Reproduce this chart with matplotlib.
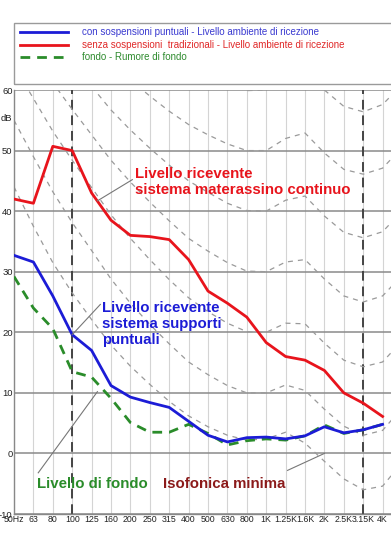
import matplotlib
matplotlib.use("Agg")
import matplotlib.pyplot as plt
from matplotlib.lines import Line2D
from matplotlib.patches import Rectangle

freq_labels = ['50Hz', '63', '80', '100', '125', '160', '200', '250', '315', '400',
               '500', '630', '800', '1K', '1.25K', '1.6K', '2K', '2.5K', '3.15K', '4K']

senza = [42.0, 41.3, 50.7, 50.0, 43.0, 38.5, 36.0, 35.8, 35.3, 32.0,
         26.8, 24.8, 22.5, 18.3, 16.0, 15.4, 13.7, 10.0, 8.3, 6.1]
con = [32.7, 31.6, 26.0, 19.6, 17.0, 11.2, 9.3, 8.4, 7.6, 5.3,
       3.0, 1.9, 2.6, 2.7, 2.4, 2.9, 4.4, 3.4, 3.9, 4.8]
fondo = [29.2, 24.0, 20.6, 13.5, 12.6, 9.1, 5.1, 3.5, 3.5, 4.8,
         3.3, 1.4, 2.1, 2.4, 2.2, 2.9, 4.7, 3.3, 3.9, 4.8]

# equal-loudness reference curves (50 Hz .. 5 kHz)
iso_soglia = [44.0, 37.5, 31.5, 26.5, 22.1, 17.9, 14.4, 11.4, 8.6, 6.2, 4.4, 3.0, 2.2, 2.4, 3.5, 1.7, -1.3, -4.2, -6.0, -5.4, -1.5]
iso_10 = [55.0, 49.0, 43.2, 38.1, 33.5, 28.8, 24.8, 21.3, 18.1, 15.1, 13.0, 11.2, 10.0, 10.0, 11.3, 10.4, 7.3, 4.5, 3.0, 3.8, 7.5]
iso_20 = [64.0, 58.6, 53.2, 48.4, 43.9, 39.4, 35.5, 32.0, 28.7, 25.7, 23.4, 21.5, 20.1, 20.0, 21.5, 21.4, 18.2, 15.4, 14.3, 15.1, 18.6]
iso_30 = [71.3, 66.2, 61.2, 56.8, 52.6, 48.4, 44.8, 41.5, 38.4, 35.5, 33.4, 31.5, 30.1, 30.0, 31.6, 32.0, 28.8, 26.0, 25.0, 26.0, 29.4]
iso_40 = [77.8, 73.1, 68.5, 64.4, 60.6, 56.7, 53.4, 50.4, 47.6, 45.0, 43.1, 41.3, 40.1, 40.0, 41.8, 42.5, 39.2, 36.5, 35.6, 36.6, 40.0]
iso_50 = [84.0, 79.6, 75.4, 71.6, 68.2, 64.7, 61.7, 59.0, 56.5, 54.3, 52.6, 51.1, 50.0, 50.0, 52.0, 52.9, 49.6, 46.9, 46.1, 47.1, 50.5]
iso_60 = [90.0, 85.9, 82.1, 78.7, 75.6, 72.5, 69.9, 67.5, 65.4, 63.5, 62.1, 60.8, 59.9, 60.0, 62.2, 63.2, 60.0, 57.3, 56.4, 57.6, 60.9]
iso_curves = [iso_soglia, iso_10, iso_20, iso_30, iso_40, iso_50, iso_60]

legend_labels = ['con sospensioni puntuali - Livello ambiente di ricezione',
                 'senza sospensioni  tradizionali - Livello ambiente di ricezione',
                 'fondo - Rumore di fondo']

plt.rcParams['font.family'] = ['Liberation Sans', 'DejaVu Sans']

W, H = 391, 537
fig = plt.figure(figsize=(W / 100, H / 100), dpi=100)
x0, x1 = 14, 391
ytop, ybot = 90, 514
ax = fig.add_axes([x0 / W, (H - ybot) / H, (x1 - x0) / W, (ybot - ytop) / H])
ax.set_xlim(0, (x1 - x0) / 19.4)
ax.set_ylim(-10, 60)

xs = list(range(len(freq_labels)))
# grid
for i in xs:
    ax.axvline(i, color='#d4d4d4', lw=0.8, zorder=1)
for v in range(-10, 61, 10):
    ax.axhline(v, color='#8a8a8a', lw=1.1, zorder=1)
ax.axvline(3, color='#444444', lw=1.4, ls=(0, (5, 3)), zorder=2)
ax.axvline(18, color='#444444', lw=1.4, ls=(0, (5, 3)), zorder=2)

for c in iso_curves:
    ax.plot(range(len(c)), c, color='#9a9a9a', lw=0.9, ls=(0, (4, 4)), zorder=2)

ax.plot(xs, senza, color='#e8141c', lw=2.0, zorder=4)
ax.plot(xs, con, color='#1c1cd6', lw=2.0, zorder=4)
ax.plot(xs, fondo, color='#2a8c2a', lw=2.0, ls=(0, (3.5, 2.5)), zorder=3)

for s in ['top', 'right']:
    ax.spines[s].set_visible(False)
for s in ['left', 'bottom']:
    ax.spines[s].set_color('#888888')
    ax.spines[s].set_linewidth(1.0)

ax.set_xticks(xs)
ax.set_xticklabels(freq_labels, fontsize=6.3, color='#222222')
ax.set_yticks(range(-10, 61, 10))
ax.set_yticklabels([str(v) for v in range(-10, 61, 10)], fontsize=6.8, color='#222222')
ax.tick_params(length=0, pad=1)
ax.text(-0.1, 55.3, 'dB', fontsize=6.8, ha='right', va='center', color='#222222')
ax.text(9.9, -15.6, 'Frequenza', fontsize=5.8, ha='center', va='center', color='#333333')

# annotations
ax.text(6.25, 44.8, 'Livello ricevente\nsistema materassino continuo', color='#e8141c',
        fontsize=10.8, fontweight='bold', ha='left', va='center', linespacing=1.2)
ax.plot([6.1, 4.3], [45.2, 41.7], color='#777777', lw=0.8, zorder=5)
ax.text(4.55, 21.4, 'Livello ricevente\nsistema supporti\npuntuali', color='#1c1cd6',
        fontsize=10.8, fontweight='bold', ha='left', va='center', linespacing=1.2)
ax.plot([4.45, 3.0], [24.6, 19.6], color='#777777', lw=0.8, zorder=5)
ax.text(1.2, -5.0, 'Livello di fondo', color='#2a8c2a', fontsize=10.8,
        fontweight='bold', ha='left', va='center')
ax.plot([1.25, 4.3], [-3.2, 10.2], color='#777777', lw=0.8, zorder=5)
ax.text(7.7, -5.0, 'Isofonica minima', color='#8b1a1a', fontsize=10.8,
        fontweight='bold', ha='left', va='center')
ax.plot([14.1, 16.0], [-2.8, 0.0], color='#777777', lw=0.8, zorder=5)

# legend box
fig.patches.append(Rectangle((x0 / W, (H - 84) / H), 1.0, (84 - 23) / H,
                             transform=fig.transFigure, fill=False,
                             edgecolor='#9a9a9a', lw=1.0))
leg_colors = ['#1c1cd6', '#e8141c', '#2a8c2a']
leg_text_colors = ['#3a3ad0', '#e02828', '#2e8b2e']
leg_styles = ['-', '-', (0, (3.5, 2.5))]
for k, (lab, col, tcol, st) in enumerate(zip(legend_labels, leg_colors, leg_text_colors, leg_styles)):
    yy = (H - (32 + 12.5 * k)) / H
    fig.add_artist(Line2D([20 / W, 68 / W], [yy, yy], transform=fig.transFigure,
                          color=col, lw=2.0, ls=st))
    fig.text(82 / W, yy, lab, color=tcol, fontsize=7.0, va='center', ha='left')

fig.savefig('out.png', dpi=100, facecolor='white')
